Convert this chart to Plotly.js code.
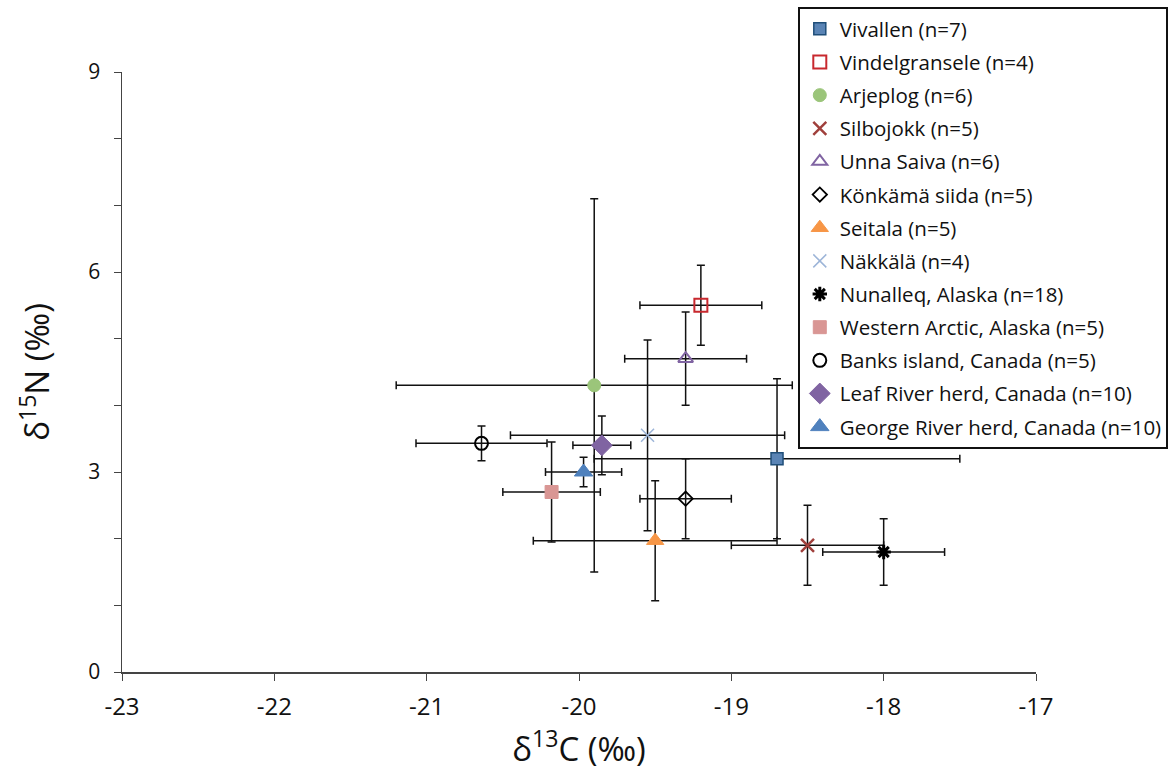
<!DOCTYPE html>
<html>
<head>
<meta charset="utf-8">
<script src="https://cdn.plot.ly/plotly-3.0.1.min.js"></script>
<style>html,body{margin:0;padding:0;background:#fff;}#chart{width:1170px;height:775px;}</style>
</head>
<body>
<div id="chart"></div>
<script>
// Data
const names = [
  "Vivallen (n=7)", "Vindelgransele (n=4)", "Arjeplog (n=6)", "Silbojokk (n=5)",
  "Unna Saiva (n=6)", "Könkämä siida (n=5)", "Seitala (n=5)", "Näkkälä (n=4)",
  "Nunalleq, Alaska (n=18)", "Western Arctic, Alaska (n=5)", "Banks island, Canada (n=5)",
  "Leaf River herd, Canada (n=10)", "George River herd, Canada (n=10)"
];
const d13C    = [-18.7, -19.2, -19.9, -18.5, -19.3, -19.3, -19.5, -19.55, -18.0, -20.18, -20.64, -19.85, -19.97];
const d13C_sd = [1.2, 0.4, 1.3, 0.5, 0.4, 0.3, 0.8, 0.9, 0.4, 0.32, 0.43, 0.19, 0.25];
const d15N    = [3.2, 5.5, 4.3, 1.9, 4.7, 2.6, 1.97, 3.55, 1.8, 2.7, 3.43, 3.4, 3.0];
const d15N_sd = [1.2, 0.6, 2.8, 0.6, 0.7, 0.6, 0.9, 1.43, 0.5, 0.75, 0.26, 0.44, 0.22];
const xTicks = [-23, -22, -21, -20, -19, -18, -17];
const xTickText = ["-23", "-22", "-21", "-20", "-19", "-18", "-17"];
const yTicks = [0, 3, 6, 9];

const styles = [
  {symbol: "square", color: "#5a84b5", size: 12, line: {color: "#1f4e79", width: 1.5}},
  {symbol: "square-open", color: "#c8282e", size: 13, line: {color: "#c8282e", width: 2}},
  {symbol: "circle", color: "#9bc57a", size: 13, line: {color: "#9bc57a", width: 1}},
  {symbol: "x-thin-open", color: "#a0403c", size: 13, line: {color: "#a0403c", width: 2.5}},
  {symbol: "triangle-up-open", color: "#8064a2", size: 13, line: {color: "#8064a2", width: 2}},
  {symbol: "diamond-open", color: "#000000", size: 11, line: {color: "#000000", width: 1.8}},
  {symbol: "triangle-up", color: "#f79646", size: 15, line: {color: "#f79646", width: 1}},
  {symbol: "x-thin-open", color: "#9db5d8", size: 13, line: {color: "#9db5d8", width: 1.5}},
  {symbol: "asterisk-open", color: "#000000", size: 12, line: {color: "#000000", width: 3}},
  {symbol: "square", color: "#d99694", size: 13, line: {color: "#d99694", width: 1}},
  {symbol: "circle-open", color: "#000000", size: 13, line: {color: "#000000", width: 2}},
  {symbol: "diamond", color: "#8064a2", size: 16, line: {color: "#8064a2", width: 1}},
  {symbol: "triangle-up", color: "#4f81bd", size: 16, line: {color: "#4f81bd", width: 1}}
];

const traces = names.map((n, i) => ({
  type: "scatter",
  mode: "markers",
  name: n,
  legendgroup: "g" + i,
  x: [d13C[i]],
  y: [d15N[i]],
  marker: {symbol: styles[i].symbol, color: styles[i].color, size: styles[i].size, line: styles[i].line},
  error_x: {type: "data", array: [d13C_sd[i]], visible: true, color: "#111", thickness: 1.5, width: 4},
  error_y: {type: "data", array: [d15N_sd[i]], visible: true, color: "#111", thickness: 1.5, width: 4}
}));

const layout = {
  width: 1170, height: 775,
  margin: {l: 122, r: 134, t: 72, b: 103, autoexpand: false},
  paper_bgcolor: "#fff", plot_bgcolor: "#fff",
  font: {family: "Open Sans, sans-serif", color: "#111"},
  showlegend: true,
  legend: {
    x: 0.7396, y: 1.108, xanchor: "left", yanchor: "top",
    bordercolor: "#111", borderwidth: 1.8, bgcolor: "#fff",
    font: {family: "Open Sans, sans-serif", size: 20.5, color: "#111"},
    tracegroupgap: 3.5, itemsizing: "trace", maxheight: 1000
  },
  xaxis: {
    range: [-23, -17], tickvals: xTicks, ticktext: xTickText, ticks: "outside", ticklen: 7, tickcolor: "#444",
    showline: true, linecolor: "#444", linewidth: 1.5, showgrid: false, zeroline: false, automargin: false,
    tickfont: {family: "Liberation Sans Narrow, Open Sans, sans-serif", size: 24, color: "#111"}, ticklabelstandoff: 6,
    title: {text: "δ<sup>13</sup>C (‰)", font: {family: "Open Sans, sans-serif", size: 33, color: "#111"}, standoff: 16}
  },
  yaxis: {
    range: [0, 9], tickvals: yTicks, ticks: "outside", ticklen: 7, tickcolor: "#444",
    minor: {dtick: 1, ticks: "outside", ticklen: 7, tickcolor: "#444", showgrid: false},
    showline: true, linecolor: "#444", linewidth: 1.5, showgrid: false, zeroline: false, automargin: false,
    tickfont: {family: "Open Sans, sans-serif", size: 21, color: "#111"}, ticklabelstandoff: 9,
    title: {text: "δ<sup>15</sup>N (‰)", font: {family: "Open Sans, sans-serif", size: 33, color: "#111"}, standoff: 28}
  }
};

Plotly.newPlot("chart", traces, layout, {displayModeBar: false, staticPlot: true});
</script>
</body>
</html>
